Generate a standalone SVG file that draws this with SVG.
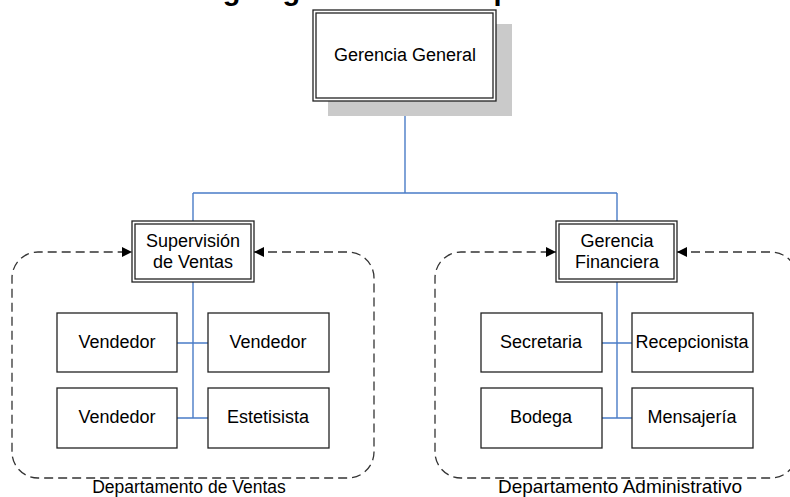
<svg xmlns="http://www.w3.org/2000/svg" width="790" height="497" viewBox="0 0 790 497">
<style>
  text { font-family: "Liberation Sans", Arial, sans-serif; fill: #000; }
  .lbl { font-size: 18px; text-anchor: middle; }
  .box { fill: #fff; stroke: #222; stroke-width: 1.3; }
  .dbl { fill: none; stroke: #222; stroke-width: 1.3; }
  .conn { fill: none; stroke: #4a7cc7; stroke-width: 1.4; }
  .dash { fill: none; stroke: #333; stroke-width: 1.3; stroke-dasharray: 9 5; }
</style>
<defs>
  <marker id="arr" viewBox="0 0 10 10" refX="10" refY="5" markerWidth="10" markerHeight="10" markerUnits="userSpaceOnUse" orient="auto-start-reverse">
    <path d="M0,0 L10,5 L0,10 Z" fill="#000"/>
  </marker>
</defs>
<rect width="790" height="497" fill="#fff"/>
<text x="380" y="0" font-size="29" font-weight="bold" text-anchor="middle">Organigrama de la empresa</text>

<g id="connectors">
  <path class="conn" d="M405,101 V193 M193,193 H617 M193,193 V221 M617,193 V221"/>
  <path class="conn" d="M193,282 V418 M177,343 H208 M177,418 H208"/>
  <path class="conn" d="M617,282 V418 M602,343 H632 M602,418 H632"/>
  <path class="dash" marker-start="url(#arr)" marker-end="url(#arr)" d="M254,252 H348 A26,26 0 0 1 374,278 V452 A26,26 0 0 1 348,478 H38 A26,26 0 0 1 12,452 V278 A26,26 0 0 1 38,252 H132"/>
  <path class="dash" marker-start="url(#arr)" marker-end="url(#arr)" d="M677,252 H771 A26,26 0 0 1 797,278 V452 A26,26 0 0 1 771,478 H461 A26,26 0 0 1 435,452 V278 A26,26 0 0 1 461,252 H556"/>
</g>

<g id="gerencia-general">
  <rect x="328" y="24" width="184" height="92" fill="#cacaca"/>
  <rect class="box" x="313" y="10" width="183" height="91"/>
  <rect class="dbl" x="316" y="13" width="177" height="85"/>
  <text class="lbl" x="405" y="61">Gerencia General</text>
</g>

<g id="supervision-ventas">
  <rect class="box" x="132" y="221" width="122" height="61"/>
  <rect class="dbl" x="135" y="224" width="116" height="55"/>
  <text class="lbl" x="193" y="247">Supervisión</text>
  <text class="lbl" x="193" y="268">de Ventas</text>
</g>

<g id="gerencia-financiera">
  <rect class="box" x="556" y="221" width="121" height="61"/>
  <rect class="dbl" x="559" y="224" width="115" height="55"/>
  <text class="lbl" x="617" y="247">Gerencia</text>
  <text class="lbl" x="617" y="268">Financiera</text>
</g>

<g id="vendedor-1">
  <rect class="box" x="57" y="313" width="120" height="59"/>
  <text class="lbl" x="117" y="348">Vendedor</text>
</g>
<g id="vendedor-2">
  <rect class="box" x="208" y="313" width="121" height="59"/>
  <text class="lbl" x="268" y="348">Vendedor</text>
</g>
<g id="vendedor-3">
  <rect class="box" x="57" y="388" width="120" height="60"/>
  <text class="lbl" x="117" y="423">Vendedor</text>
</g>
<g id="estetisista">
  <rect class="box" x="208" y="388" width="121" height="60"/>
  <text class="lbl" x="268" y="423">Estetisista</text>
</g>

<g id="secretaria">
  <rect class="box" x="481" y="313" width="121" height="59"/>
  <text class="lbl" x="541" y="348">Secretaria</text>
</g>
<g id="recepcionista">
  <rect class="box" x="632" y="313" width="121" height="59"/>
  <text class="lbl" x="692" y="348">Recepcionista</text>
</g>
<g id="bodega">
  <rect class="box" x="481" y="388" width="121" height="60"/>
  <text class="lbl" x="541" y="423">Bodega</text>
</g>
<g id="mensajeria">
  <rect class="box" x="632" y="388" width="121" height="60"/>
  <text class="lbl" x="692" y="423">Mensajería</text>
</g>

<g id="departamento-ventas">
  <text class="lbl" x="189" y="493" style="font-size:17.5px">Departamento de Ventas</text>
</g>
<g id="departamento-administrativo">
  <text class="lbl" x="620" y="493" style="font-size:19px">Departamento Administrativo</text>
</g>
</svg>
